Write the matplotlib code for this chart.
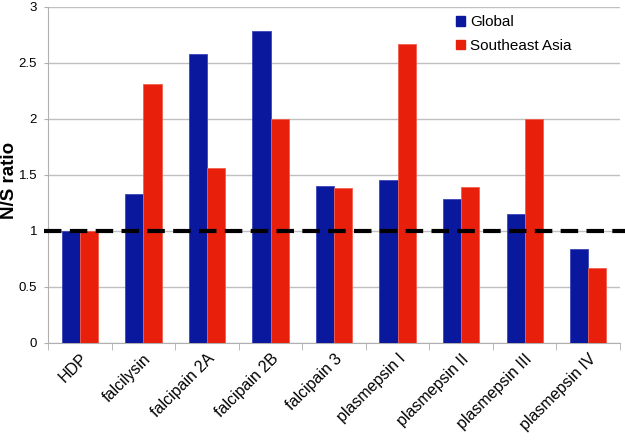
import numpy as np
import matplotlib
matplotlib.use('Agg')
import matplotlib.pyplot as plt
from matplotlib.patches import Patch

plt.rcParams['font.family'] = ['Liberation Sans', 'DejaVu Sans']

genes = ['HDP', 'falcilysin', 'falcipain 2A', 'falcipain 2B', 'falcipain 3',
         'plasmepsin I', 'plasmepsin II', 'plasmepsin III', 'plasmepsin IV']
global_ns = [1.00, 1.33, 2.58, 2.78, 1.40, 1.45, 1.28, 1.15, 0.84]
sea_ns = [1.00, 2.31, 1.56, 2.00, 1.38, 2.67, 1.39, 2.00, 0.67]

blue = '#0a189e'
red = '#e81f0a'

fig = plt.figure(figsize=(6.25, 4.47), dpi=100)
ax = fig.add_axes([0.077, 0.233, 0.915, 0.752])

x = np.arange(len(genes))
w = 0.285
ax.bar(x - w / 2, global_ns, w, color=blue, edgecolor='#3a46b8', linewidth=0.6, zorder=3)
ax.bar(x + w / 2, sea_ns, w, color=red, edgecolor='#f06050', linewidth=0.6, zorder=3)

ax.axhline(1, xmin=-0.007, xmax=1.01, color='black', lw=3, ls=(0, (4.2, 2.0)),
           clip_on=False, zorder=4)

ax.set_xlim(-0.5, len(genes) - 0.5)
ax.set_ylim(0, 3)
ax.set_yticks(np.arange(0, 3.01, 0.5))
ax.set_yticklabels(['0', '0.5', '1', '1.5', '2', '2.5', '3'], fontsize=9.5)
ax.yaxis.grid(True, color='#c0c0c0', lw=1, zorder=0)
ax.tick_params(axis='y', length=3, color='#b0b0b0', pad=5)

ax.set_xticks(x)
ax.set_xticklabels(genes, rotation=45, ha='right', rotation_mode='anchor', fontsize=11.5)
ax.tick_params(axis='x', which='major', length=0, pad=6)
ax.set_xticks(np.arange(-0.5, len(genes)), minor=True)
ax.tick_params(axis='x', which='minor', length=5, color='#b0b0b0')

for s in ['top', 'right']:
    ax.spines[s].set_visible(False)
for s in ['left', 'bottom']:
    ax.spines[s].set_color('#b0b0b0')

fig.text(0.0145, 0.597, 'N/S ratio', rotation=90, ha='center', va='center',
         fontsize=13.5, fontweight='bold')

handles = [Patch(color=blue), Patch(color=red)]
ax.legend(handles, ['Global', 'Southeast Asia'], loc='upper left',
          bbox_to_anchor=(0.69, 1.015), frameon=False, fontsize=11,
          handlelength=0.55, handleheight=0.55, handletextpad=0.35, labelspacing=0.6)

fig.savefig('out.png', dpi=100)
